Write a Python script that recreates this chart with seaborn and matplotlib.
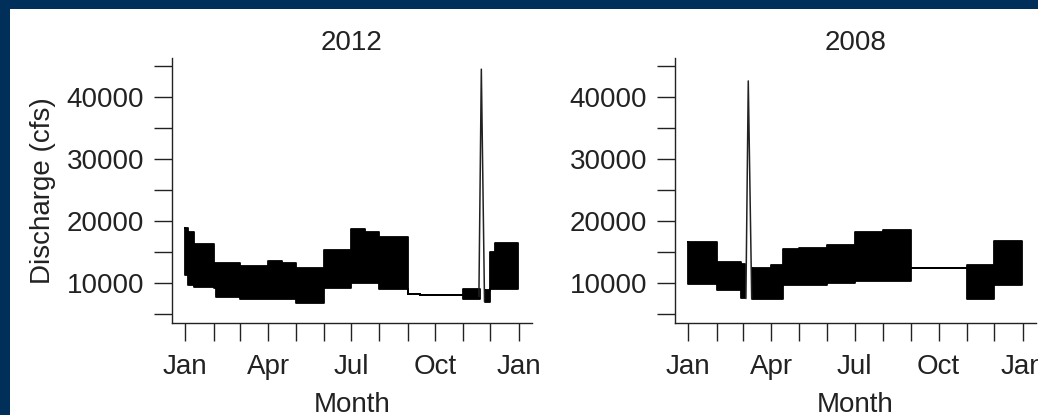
import numpy as np
import pandas as pd
import matplotlib
matplotlib.use("Agg")
import matplotlib.pyplot as plt
from matplotlib.patches import Rectangle
import seaborn as sns

# Discharge summarised as the daily swing (low / high) between release changes.
# A NaN row marks a break in the band (the storm peak is drawn on its own).
dates_2012 = ["2012-01-01", "2012-01-04", "2012-01-11", "2012-02-01", "2012-02-04",
              "2012-03-01", "2012-04-01", "2012-04-16", "2012-05-01", "2012-06-01",
              "2012-07-01", "2012-07-16", "2012-08-01", "2012-09-01", "2012-09-15",
              "2012-11-01", "2012-11-19", "2012-11-24 12:00", "2012-12-01",
              "2012-12-06", "2012-12-31"]
high_2012 = [18800, 18300, 16300, 13200, 13200, 12700, 13600, 13300, 12400, 15300,
             18700, 18300, 17400, 8200, 8000, 9100, np.nan, 8900, 15000, 16500, 16500]
low_2012 = [11300, 9600, 9400, 9200, 7800, 7350, 7350, 7350, 6700, 9200,
            10000, 10000, 9100, 8200, 8000, 7400, np.nan, 7000, 9100, 9100, 9100]
spike_dates_2012 = ["2012-11-18 08:00", "2012-11-21", "2012-11-24 12:00"]
spike_flow_2012 = [7800, 44500, 7000]

dates_2008 = ["2008-01-01", "2008-02-01", "2008-02-28", "2008-03-03", "2008-03-10 12:00",
              "2008-04-01", "2008-04-14", "2008-05-01", "2008-06-01", "2008-07-01",
              "2008-08-01", "2008-09-01", "2008-11-01", "2008-12-01", "2008-12-31"]
high_2008 = [16600, 13400, 13000, np.nan, 12400, 12900, 15500, 15700, 16100, 18300,
             18500, 12400, 12900, 16700, 16700]
low_2008 = [9800, 8900, 7600, np.nan, 7500, 7500, 9600, 9700, 10000, 10400,
            10300, 12400, 7500, 9600, 9600]
spike_dates_2008 = ["2008-03-04", "2008-03-06 14:00", "2008-03-10 08:00"]
spike_flow_2008 = [7500, 42600, 7500]

years = ["2012", "2008"]
y_ticks = [5000, 10000, 15000, 20000, 25000, 30000, 35000, 40000, 45000]
y_tick_labels = ["", "10000", "", "20000", "", "30000", "", "40000", ""]
month_labels = ["Jan", "", "", "Apr", "", "", "Jul", "", "", "Oct", "", "", "Jan"]

series = {
    "2012": (dates_2012, high_2012, low_2012, spike_dates_2012, spike_flow_2012),
    "2008": (dates_2008, high_2008, low_2008, spike_dates_2008, spike_flow_2008),
}

NAVY = "#00305a"
INK = "#222222"

sns.set_theme(style="ticks")
plt.rcParams["font.family"] = ["Liberation Sans", "DejaVu Sans"]
plt.rcParams["axes.linewidth"] = 1.0
plt.rcParams["axes.grid"] = False

fig = plt.figure(figsize=(10.38, 4.15), dpi=100, facecolor=NAVY)
panel = Rectangle((10 / 1038, 0), 1, (415 - 9) / 415, transform=fig.transFigure,
                  facecolor="white", edgecolor="none", zorder=-10)
fig.add_artist(panel)

axes_rects = [
    [172 / 1038, (415 - 323) / 415, 360 / 1038, 265 / 415],
    [675 / 1038, (415 - 323) / 415, 361 / 1038, 265 / 415],
]


def step_table(dates, high, low):
    """Hold each (high, low) pair until the next date; one frame per unbroken run."""
    d = pd.to_datetime(dates, format="ISO8601")
    runs, cur = [], []
    for i in range(len(d)):
        if np.isnan(high[i]):
            if cur:
                runs.append((cur, d[i]))
            cur = []
        else:
            cur.append(i)
    if cur:
        runs.append((cur[:-1], d[cur[-1]]))
    frames = []
    for idx, stop in runs:
        xs, hs, ls = [], [], []
        bounds = [d[j] for j in idx] + [stop]
        for k, j in enumerate(idx):
            xs += [bounds[k], bounds[k + 1]]
            hs += [high[j], high[j]]
            ls += [low[j], low[j]]
        frames.append(pd.DataFrame({"date": xs, "high": hs, "low": ls}))
    return frames


for year, rect in zip(years, axes_rects):
    dates, high, low, sp_dates, sp_flow = series[year]
    ax = fig.add_axes(rect)
    ax.set_facecolor("white")
    ax.grid(False)

    runs = step_table(dates, high, low)
    outline = []
    for i, g in enumerate(runs):
        ax.fill_between(g["date"], g["low"], g["high"], color="black",
                        linewidth=0, zorder=2)
        # outline: along the top and back along the bottom
        ring = pd.DataFrame({
            "date": list(g["date"]) + list(g["date"][::-1]) + [g["date"].iloc[0]],
            "flow": list(g["high"]) + list(g["low"][::-1]) + [g["high"].iloc[0]],
        })
        ring["run"] = i
        outline.append(ring)
    outline = pd.concat(outline, ignore_index=True)
    sns.lineplot(data=outline, x="date", y="flow", units="run", estimator=None,
                 sort=False, color="black", linewidth=1.3, ax=ax, legend=False,
                 zorder=3)

    sns.lineplot(x=pd.to_datetime(sp_dates, format="ISO8601"), y=sp_flow,
                 color=INK, linewidth=1.1, sort=False, ax=ax, zorder=3)

    start = pd.Timestamp(f"{year}-01-01")
    end = pd.Timestamp(f"{int(year) + 1}-01-01")
    pad = (end - start) * 0.04
    ax.set_xlim(start - pad, end + pad)
    ax.set_ylim(3550, 46300)

    month_ticks = pd.date_range(start, periods=13, freq="MS")
    ax.set_xticks(month_ticks)
    ax.set_xticklabels(month_labels)
    ax.set_yticks(y_ticks)
    ax.set_yticklabels(y_tick_labels)

    for s in ["top", "right"]:
        ax.spines[s].set_visible(False)
    for s in ["left", "bottom"]:
        ax.spines[s].set_color(INK)
        ax.spines[s].set_linewidth(1.0)

    ax.tick_params(axis="both", direction="out", length=13, width=1.0,
                   color=INK, labelsize=20, labelcolor=INK)
    ax.tick_params(axis="y", pad=7)
    ax.tick_params(axis="x", pad=9)

    ax.set_title(year, fontsize=20, color=INK, pad=6)
    ax.set_xlabel("Month", fontsize=20, color=INK, labelpad=9)
    if year == "2012":
        ax.set_ylabel("Discharge (cfs)", fontsize=20, color=INK, labelpad=8)
    else:
        ax.set_ylabel("")

fig.savefig("out.png", dpi=100, facecolor=fig.get_facecolor())
